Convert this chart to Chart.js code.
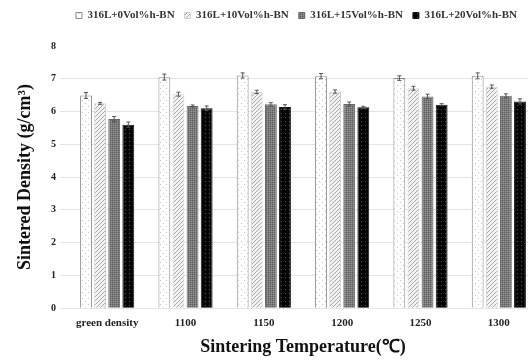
<!DOCTYPE html>
<html>
<head>
<meta charset="utf-8">
<script src="https://cdn.jsdelivr.net/npm/chart.js@4"></script>
<style>
  html, body { margin: 0; padding: 0; background: #fff; overflow: hidden; }
  #wrap { width: 528px; height: 360px; overflow: hidden; }
  #box { width: 542px; height: 360px; }
</style>
</head>
<body>
<div id="wrap"><div id="box"><canvas id="density-chart"></canvas></div></div>
<script>
// ─── DATA ─────────────────────────────────────────────────
const categories = ['green density', '1100', '1150', '1200', '1250', '1300'];
const seriesNames = ['316L+0Vol%h-BN', '316L+10Vol%h-BN', '316L+15Vol%h-BN', '316L+20Vol%h-BN'];
const bn0 = [6.49, 7.05, 7.10, 7.08, 7.02, 7.09];
const bn10 = [6.25, 6.53, 6.60, 6.61, 6.71, 6.76];
const bn15 = [5.77, 6.17, 6.22, 6.23, 6.46, 6.48];
const bn20 = [5.60, 6.10, 6.14, 6.13, 6.21, 6.31];
const err0 = [0.09, 0.09, 0.08, 0.08, 0.07, 0.09];
const err10 = [0.03, 0.06, 0.05, 0.05, 0.06, 0.05];
const err15 = [0.08, 0.03, 0.05, 0.06, 0.07, 0.06];
const err20 = [0.08, 0.07, 0.07, 0.03, 0.03, 0.08];
const yTicks = [0, 1, 2, 3, 4, 5, 6, 7, 8];

const FONT = "'Liberation Serif', 'Times New Roman', serif";

// ─── PATTERNS ─────────────────────────────────────────────
function makePattern(size, bg, draw) {
    const c = document.createElement('canvas');
    c.width = size; c.height = size;
    const g = c.getContext('2d');
    g.fillStyle = bg;
    g.fillRect(0, 0, size, size);
    draw(g);
    return c.getContext('2d').createPattern(c, 'repeat');
}
const patDots = makePattern(6, '#ffffff', g => {
    g.fillStyle = '#c4c4c4';
    g.fillRect(1, 1, 1, 1);
    g.fillRect(4, 4, 1, 1);
});
const patHatch = makePattern(4, '#f2f2f2', g => {
    g.fillStyle = '#a8a8a8';
    g.fillRect(0, 3, 1, 1);
    g.fillRect(1, 2, 1, 1);
    g.fillRect(2, 1, 1, 1);
    g.fillRect(3, 0, 1, 1);
});
const patGrey = makePattern(2, '#7a7a7a', g => {
    g.fillStyle = '#5e5e5e';
    g.fillRect(0, 0, 1, 1);
    g.fillStyle = '#959595';
    g.fillRect(1, 1, 1, 1);
});
const patBlack = makePattern(4, '#050505', g => {
    g.fillStyle = '#555555';
    g.fillRect(1, 1, 1, 1);
});

// ─── ERROR BARS ───────────────────────────────────────────
const errors = [err0, err10, err15, err20];
const errorBars = {
    id: 'errorBars',
    afterDatasetsDraw(chart) {
        const { ctx, scales: { y } } = chart;
        ctx.save();
        ctx.strokeStyle = '#555';
        ctx.lineWidth = 1;
        chart.data.datasets.forEach((ds, i) => {
            const meta = chart.getDatasetMeta(i);
            meta.data.forEach((bar, j) => {
                const v = ds.data[j], e = errors[i][j];
                const top = y.getPixelForValue(v + e);
                const bot = y.getPixelForValue(v - e);
                ctx.beginPath();
                ctx.moveTo(bar.x, top); ctx.lineTo(bar.x, bot);
                ctx.moveTo(bar.x - 2, top); ctx.lineTo(bar.x + 2, top);
                ctx.moveTo(bar.x - 2, bot); ctx.lineTo(bar.x + 2, bot);
                ctx.stroke();
            });
        });
        ctx.restore();
    }
};

// legend: extra space below it, and nudged right to sit over the full figure
const legendSpacing = {
    id: 'legendSpacing',
    beforeInit(chart) {
        if (!chart.legend) return;
        const fit = chart.legend.fit;
        chart.legend.fit = function () {
            fit.bind(chart.legend)();
            this.height += 15;
        };
    },
    afterUpdate(chart) {
        const lg = chart.legend;
        if (!lg) return;
        lg.left += 20;
        lg.right += 20;
        lg.adjustHitBoxes();
    }
};

// ─── CHART ────────────────────────────────────────────────
const fills = [patDots, patHatch, patGrey, patBlack];
const borders = ['#8a8a8a', '#d0d0d0', '#666666', '#111111'];
const values = [bn0, bn10, bn15, bn20];

new Chart(document.getElementById('density-chart'), {
    type: 'bar',
    data: {
        labels: categories,
        datasets: seriesNames.map((name, i) => ({
            label: name,
            data: values[i],
            backgroundColor: fills[i],
            borderColor: borders[i],
            borderWidth: 1,
            categoryPercentage: 0.72,
            barPercentage: 0.84,
        }))
    },
    options: {
        responsive: true,
        maintainAspectRatio: false,
        animation: false,
        layout: { padding: { left: 15, right: 4, top: 0, bottom: 2 } },
        plugins: {
            legend: {
                position: 'top',
                labels: {
                    boxWidth: 6,
                    boxHeight: 6,
                    padding: 10,
                    color: '#333',
                    font: { family: FONT, size: 11, weight: 'bold' }
                }
            },
            tooltip: { enabled: false }
        },
        scales: {
            x: {
                grid: { display: false },
                border: { display: false },
                ticks: {
                    color: '#222',
                    padding: 0,
                    maxRotation: 0,
                    font: { family: FONT, size: 11, weight: 'bold' }
                },
                title: {
                    display: true,
                    text: 'Sintering Temperature(℃)',
                    color: '#111',
                    padding: { top: 7, bottom: 0 },
                    font: { family: FONT, size: 18, weight: 'bold' }
                }
            },
            y: {
                min: 0, max: 8,
                afterBuildTicks: axis => { axis.ticks = yTicks.map(v => ({ value: v })); },
                afterFit: axis => { axis.width = 53; },
                grid: { color: c => (c.tick && c.tick.value === 8 ? 'rgba(0,0,0,0)' : '#e4e4e4'), lineWidth: 1 },
                border: { display: false },
                ticks: {
                    color: '#222',
                    padding: 4,
                    font: { family: FONT, size: 10, weight: 'bold' }
                },
                title: {
                    display: true,
                    text: 'Sintered Density (g/cm³)',
                    color: '#111',
                    padding: { top: 0, bottom: 0 },
                    font: { family: FONT, size: 18, weight: 'bold' }
                }
            }
        }
    },
    plugins: [errorBars, legendSpacing]
});
</script>
</body>
</html>
